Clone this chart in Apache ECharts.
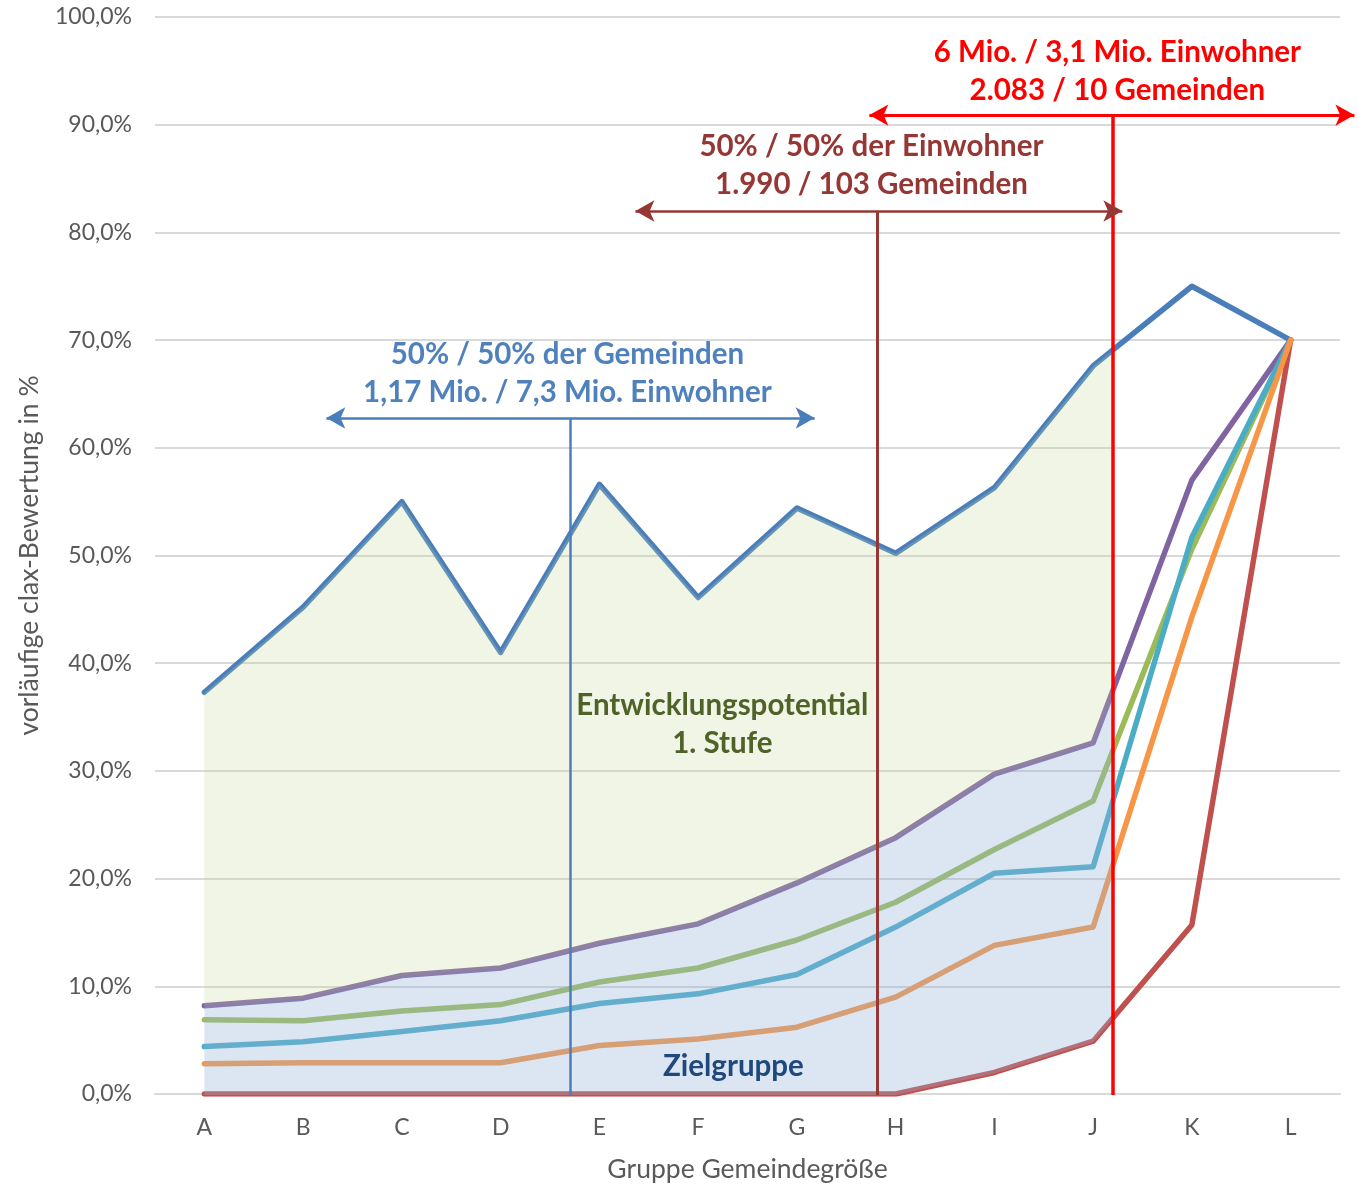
<!DOCTYPE html>
<html><head><meta charset="utf-8">
<script src="https://cdn.jsdelivr.net/npm/echarts@6/dist/echarts.min.js"></script>
<style>html,body{margin:0;padding:0;background:#fff}#c{width:1358px;height:1188px}</style>
</head><body><div id="c"></div>
<script>
// ---- data ----
const categories = ['A','B','C','D','E','F','G','H','I','J','K','L'];
const seriesTop    = [37.3,45.2,55.0,41.0,56.6,46.1,54.4,50.2,56.3,67.6,75.0,70.0];
const seriesPurple = [8.2,8.9,11.0,11.7,14.0,15.8,19.6,23.8,29.7,32.6,57.0,70.0];
const seriesGreen  = [6.9,6.8,7.7,8.3,10.4,11.7,14.3,17.8,22.7,27.2,50.6,70.0];
const seriesCyan   = [4.4,4.85,5.8,6.8,8.4,9.3,11.1,15.5,20.5,21.1,51.7,70.0];
const seriesOrange = [2.8,2.9,2.9,2.9,4.5,5.1,6.2,9.0,13.8,15.5,44.3,70.0];
const seriesRed    = [0,0,0,0,0,0,0,0,2.0,4.9,15.7,70.0];
const yTickValues  = [0,10,20,30,40,50,60,70,80,90,100];

// annotation anchors in category-index / percent units
const ann = {
  blue:  {x: 3.70,  y: 62.8, from: 1.235, to: 6.18},
  brown: {x: 6.815, y: 82.0, from: 4.365, to: 9.296},
  red:   {x: 9.195, y: 90.9, from: 6.734, to: 11.646}
};
const annMax = 11.65;

const W = 1358, H = 1188;
const gl = 155, gr = 18, gt = 17, gb = 93;
const plotW = W - gl - gr;
const nCat = categories.length;
const fillW = (ann.red.x + 0.5) / nCat * plotW;
const annW = (annMax + 0.5) / nCat * plotW;

const FONT = 'Lato';
const pct = v => v.toFixed(1).replace('.', ',') + '%';

const lineDefs = [
  {name:'Top', data: seriesTop, color:'#4a7ebb'},
  {name:'Purple', data: seriesPurple, color:'#8064a2'},
  {name:'Green', data: seriesGreen, color:'#9bbb59'},
  {name:'Cyan', data: seriesCyan, color:'#4bacc6'},
  {name:'Red', data: seriesRed, color:'#c0504d'},
  {name:'Orange', data: seriesOrange, color:'#f79646'}
];

const series = lineDefs.map(d => ({
  type:'line', name:d.name, xAxisIndex:0, yAxisIndex:0, data:d.data,
  symbol:'none', z:2, silent:true,
  lineStyle:{color:d.color, width:5.5, cap:'round', join:'round'},
  itemStyle:{color:d.color}
}));

// fills (semi-transparent overlay, clipped at the red marker); value first so it is the stacked dim
const fillBase = {type:'line', xAxisIndex:1, yAxisIndex:1, stack:'fill', z:3, silent:true,
  symbol:'none', encode:{x:1, y:0}, lineStyle:{opacity:0, width:0}};
series.push(Object.assign({}, fillBase, {
  name:'fillBase', data: seriesRed.map((v,i)=>[v, i])
}));
series.push(Object.assign({}, fillBase, {
  name:'Zielgruppe', data: seriesPurple.map((v,i)=>[v - seriesRed[i], i]),
  areaStyle:{color:'rgba(149,179,215,0.33)', opacity:1}
}));
series.push(Object.assign({}, fillBase, {
  name:'Entwicklungspotential', data: seriesTop.map((v,i)=>[v - seriesPurple[i], i]),
  areaStyle:{color:'rgba(195,214,155,0.25)', opacity:1}
}));

// vertical marker lines
series.push({
  type:'line', name:'vlines', xAxisIndex:2, yAxisIndex:2, data:[], z:5, silent:true,
  markLine:{
    silent:true, animation:false, symbol:['none','none'], label:{show:false},
    data:[
      [{coord:[ann.blue.x, 0], lineStyle:{color:'#4a7ebb', width:2.5, type:'solid'}}, {coord:[ann.blue.x, ann.blue.y]}],
      [{coord:[ann.brown.x, 0], lineStyle:{color:'#953735', width:3, type:'solid'}}, {coord:[ann.brown.x, ann.brown.y]}],
      [{coord:[ann.red.x, 0], lineStyle:{color:'#ff0000', width:3.5, type:'solid'}}, {coord:[ann.red.x, ann.red.y]}]
    ]
  }
});
// horizontal double arrows
series.push({
  type:'line', name:'arrows', xAxisIndex:2, yAxisIndex:2, data:[], z:5, silent:true,
  markLine:{
    silent:true, animation:false, symbol:['arrow','arrow'], symbolSize:[16,19], label:{show:false},
    data:[
      [{coord:[ann.blue.from, ann.blue.y], lineStyle:{color:'#4a7ebb', width:2.5, type:'solid'}}, {coord:[ann.blue.to, ann.blue.y]}],
      [{coord:[ann.brown.from, ann.brown.y], lineStyle:{color:'#953735', width:2.5, type:'solid'}}, {coord:[ann.brown.to, ann.brown.y]}],
      [{coord:[ann.red.from, ann.red.y], lineStyle:{color:'#ff0000', width:3, type:'solid'}}, {coord:[ann.red.to, ann.red.y]}]
    ]
  }
});
// text annotations
const txt = (x, y, text, color) => ({
  coord:[x, y], symbol:'rect', symbolSize:1, itemStyle:{color:'rgba(0,0,0,0)'},
  label:{show:true, position:'inside', formatter:text, color:color, fontFamily:FONT,
         fontWeight:'bold', fontSize:29.5, lineHeight:38, align:'center', verticalAlign:'middle'}
});
series.push({
  type:'line', name:'texts', xAxisIndex:2, yAxisIndex:2, data:[], z:6, silent:true,
  markPoint:{
    silent:true, animation:false,
    data:[
      txt(3.676, 66.9, '50% / 50% der Gemeinden\n1,17 Mio. / 7,3 Mio. Einwohner', '#4f81bd'),
      txt(6.755, 86.2, '50% / 50% der Einwohner\n1.990 / 103 Gemeinden', '#953735'),
      txt(9.246, 94.9, '6 Mio. / 3,1 Mio. Einwohner\n2.083 / 10 Gemeinden', '#ff0000'),
      txt(5.245, 34.4, 'Entwicklungspotential\n1. Stufe', '#4f6228'),
      txt(5.357, 2.6, 'Zielgruppe', '#1f497d')
    ]
  }
});

const chart = echarts.init(document.getElementById('c'), null, {renderer:'canvas'});
chart.setOption({
  animation:false,
  backgroundColor:'#ffffff',
  textStyle:{fontFamily:FONT},
  grid:[
    {left:gl, right:gr, top:gt, bottom:gb},
    {left:gl, width:fillW, top:gt, bottom:gb},
    {left:gl, width:annW, top:gt, bottom:gb}
  ],
  xAxis:[
    {type:'category', gridIndex:0, data:categories, boundaryGap:true,
     axisLine:{show:true, lineStyle:{color:'#d9d9d9', width:2}},
     axisTick:{show:false},
     axisLabel:{color:'#595959', fontSize:23, margin:22, fontFamily:FONT},
     splitLine:{show:false},
     name:'Gruppe Gemeindegröße', nameLocation:'middle', nameGap:62,
     nameTextStyle:{color:'#595959', fontSize:26.5, fontFamily:FONT}},
    {type:'value', gridIndex:1, min:-0.5, max:ann.red.x, show:false},
    {type:'value', gridIndex:2, min:-0.5, max:annMax, show:false}
  ],
  yAxis:[
    {type:'value', gridIndex:0, min:yTickValues[0], max:yTickValues[yTickValues.length-1],
     interval:yTickValues[1]-yTickValues[0],
     axisLine:{show:false}, axisTick:{show:false},
     axisLabel:{color:'#595959', fontSize:23, margin:23, formatter:pct, fontFamily:FONT},
     splitLine:{show:true, lineStyle:{color:'#d9d9d9', width:2}},
     name:'vorläufige clax-Bewertung in %', nameLocation:'middle', nameGap:112,
     nameTextStyle:{color:'#595959', fontSize:26.5, fontFamily:FONT}},
    {type:'value', gridIndex:1, min:0, max:100, show:false},
    {type:'value', gridIndex:2, min:0, max:100, show:false}
  ],
  series:series
});
</script>
</body></html>
